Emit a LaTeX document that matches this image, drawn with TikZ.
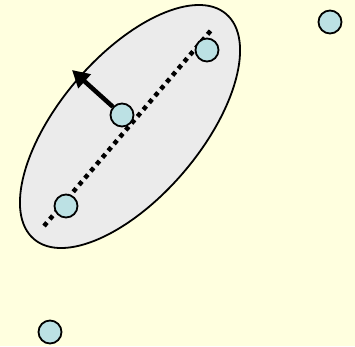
\documentclass[tikz,border=0pt]{standalone}
\usepackage{tikz}
\usepackage{xcolor}
\usetikzlibrary{shapes.geometric, arrows.meta, positioning}

\definecolor{bgyellow}{RGB}{255,255,223}
\definecolor{dotcyan}{RGB}{188,225,228}
\definecolor{blobgrey}{RGB}{235,235,235}

\begin{document}
\begin{tikzpicture}[
  x=1pt, y=-1pt,
  point/.style={circle, draw, line width=1.8pt, fill=dotcyan, minimum size=23pt, inner sep=0pt},
  blob/.style={ellipse, draw, line width=1.8pt, fill=blobgrey, minimum width=296pt,
               minimum height=141pt, inner sep=0pt, rotate=49.5},
  axis/.style={line width=4.5pt, dash pattern=on 4.5pt off 4.5pt},
  arrow/.style={-{Triangle[length=17pt,width=18pt]}, line width=4.5pt}
]
\useasboundingbox (0,0) rectangle (355,346);
\fill[bgyellow] (0,0) rectangle (355,346);

\node[blob] (clu) at (130,126.5) {};

\coordinate (axA) at (44,226);
\coordinate (axB) at (213,28);
\draw[axis] (axA) -- (axB);

\node[point] (p1) at (207,50) {};
\node[point] (p2) at (122,115) {};
\node[point] (p3) at (66,206) {};
\node[point] (p4) at (330,22) {};
\node[point] (p5) at (50,332) {};

\coordinate (tip) at (72,70);
\draw[arrow] (p2) -- (tip);
\end{tikzpicture}
\end{document}
